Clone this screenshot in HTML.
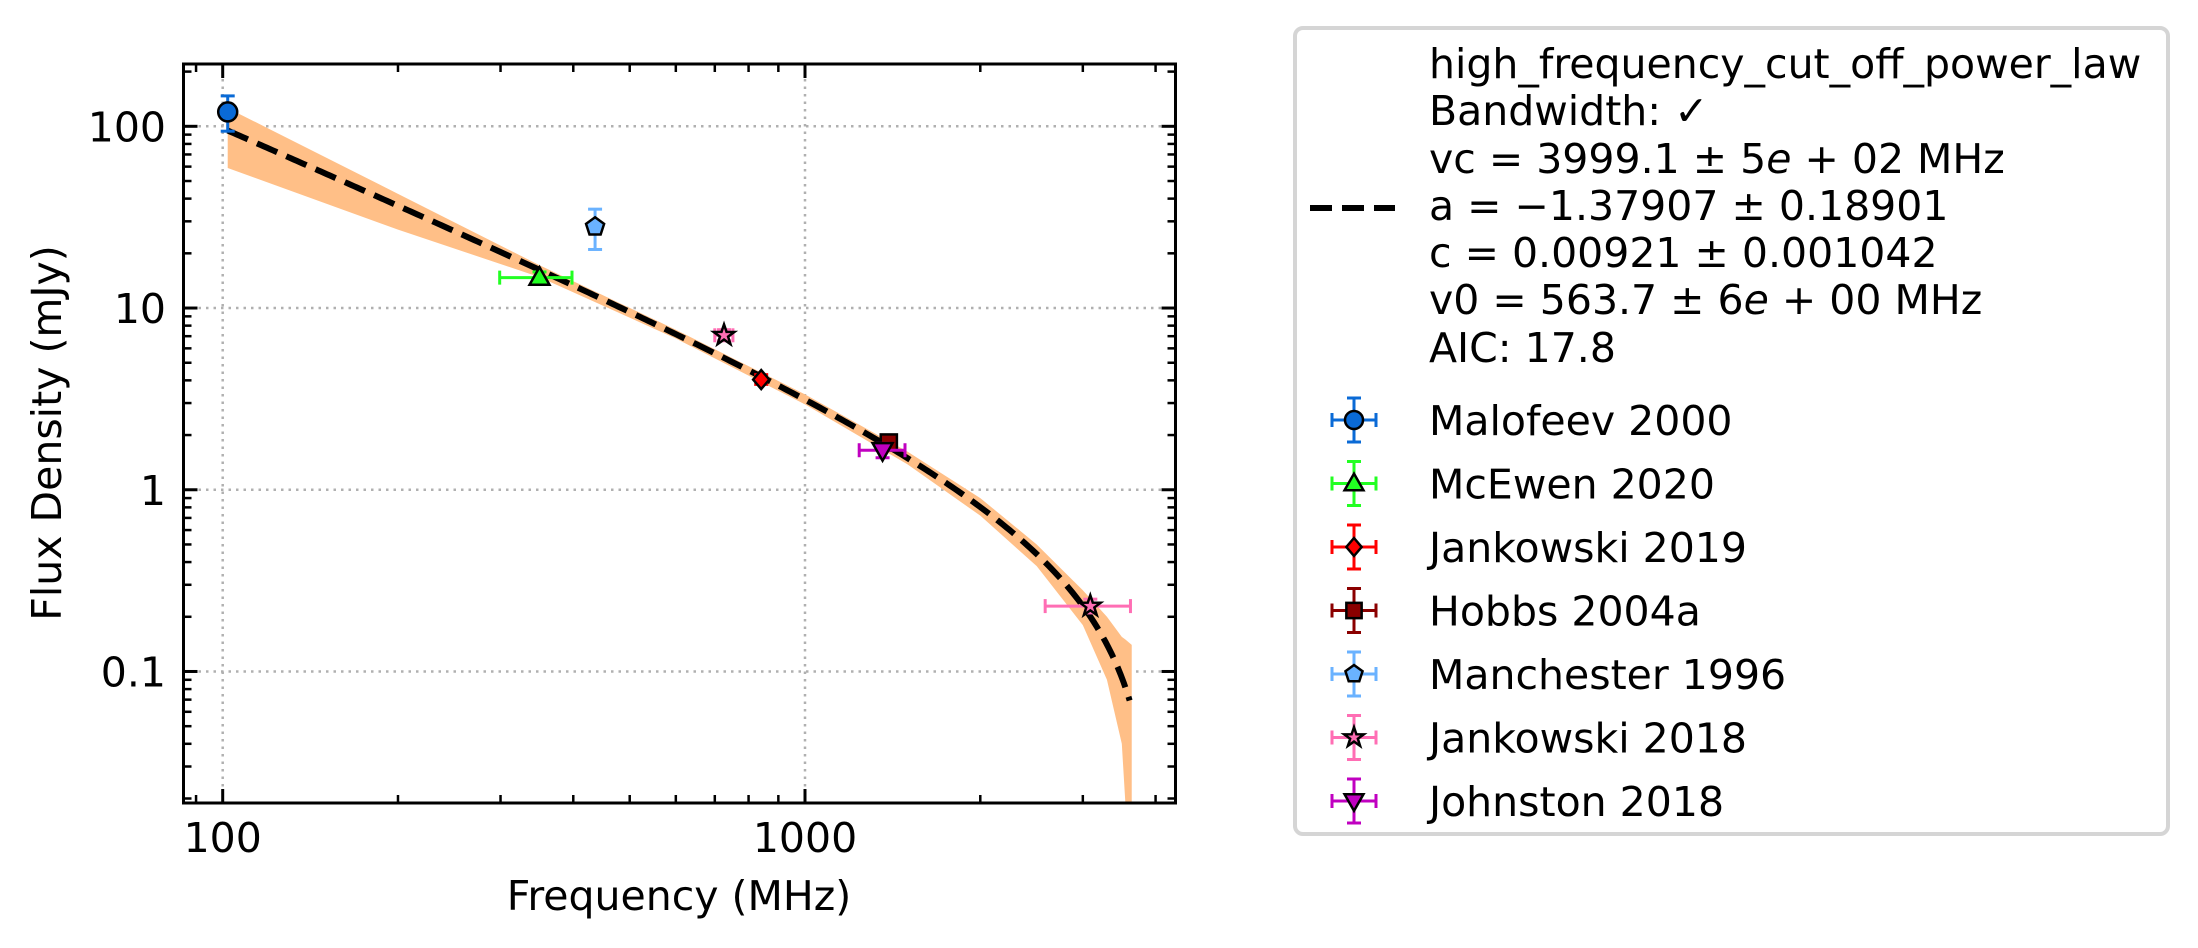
<!DOCTYPE html>
<html><head><meta charset="utf-8"><style>
html,body{margin:0;padding:0;background:#fff}
svg{display:block;font-family:"DejaVu Sans","Liberation Sans",sans-serif}
</style></head><body>
<svg id="chart" width="2198" height="948" viewBox="0 0 2198 948" xmlns="http://www.w3.org/2000/svg">
<g id="grid"></g>
<g id="band"></g>
<g id="fit"></g>
<g id="points"></g>
<g id="axes"></g>
<text x="679" y="910" font-size="41" text-anchor="middle">Frequency (MHz)</text>
<text x="0" y="0" font-size="41" text-anchor="middle" transform="translate(61,433) rotate(-90)">Flux Density (mJy)</text>
<g id="legend">
<rect x="1295" y="28" width="873" height="806" rx="8" fill="#fff" stroke="#d5d5d5" stroke-width="4"/>
<line x1="1310" y1="208" x2="1395" y2="208" stroke="#000" stroke-width="6" stroke-dasharray="22,10"/>
<g font-size="41">
<text x="1429" y="78">high_frequency_cut_off_power_law</text>
<text x="1429" y="125">Bandwidth: ✓</text>
<text x="1429" y="173">vc = 3999.1 ± 5<tspan font-style="italic">e</tspan> + 02 MHz</text>
<text x="1429" y="220">a = −1.37907 ± 0.18901</text>
<text x="1429" y="267">c = 0.00921 ± 0.001042</text>
<text x="1429" y="314">v0 = 563.7 ± 6<tspan font-style="italic">e</tspan> + 00 MHz</text>
<text x="1429" y="362">AIC: 17.8</text>
</g>
<g id="legend-entries"></g>
</g>
</svg>
<script>
// ---- data ----
const seriesNames = ["Malofeev 2000","McEwen 2020","Jankowski 2019","Hobbs 2004a","Manchester 1996","Jankowski 2018","Johnston 2018"];
const seriesColors = ["#0a6ad6","#22ff22","#ff0000","#8b0000","#6ab2ff","#ff6eb4","#c000c0"];
const seriesMarkers = ["circle","triangle","diamond","square","pentagon","star","tridown"];
// points: series index, freq, flux, freqLo, freqHi, fluxLo, fluxHi
const ptSeries = [0,1,4,5,2,3,6,5];
const ptFreq   = [102,350,436,726,841,1393,1359,3090];
const ptFlux   = [120,14.7,28,7.08,4.04,1.82,1.65,0.229];
const ptFreqLo = [101,299,434,700,835,1385,1239,2585];
const ptFreqHi = [103,398,438,752,847,1401,1485,3622];
const ptFluxLo = [94,13.6,21,6.6,3.8,1.7,1.5,0.21];
const ptFluxHi = [147,15.8,35,7.6,4.3,1.95,1.8,0.25];
const fitVc = 3999.1, fitA = -1.37907, fitC = 9.21, fitV0 = 563.7;
const fitStart = 102, fitEnd = 3610;
// uncertainty band
const bandFreq = [102,200,350,600,1000,1500,2000,2500,3000,3300,3500,3550,3640];
const bandHigh = [126,42.5,17.2,7.6,3.35,1.62,0.9,0.5,0.28,0.2,0.155,0.15,0.14];
const bandLow  = [59,27,14.8,6.8,2.95,1.38,0.72,0.38,0.18,0.09,0.04,0.0188,0.0188];
const xMajor = [100,1000];
const xMajorLabels = ["100","1000"];
const xMinor = [90,200,300,400,500,600,700,800,900,2000,3000,4000];
const yMajor = [0.1,1,10,100];
const yMajorLabels = ["0.1","1","10","100"];
const yMinor = [0.02,0.03,0.04,0.05,0.06,0.07,0.08,0.09,0.2,0.3,0.4,0.5,0.6,0.7,0.8,0.9,2,3,4,5,6,7,8,9,20,30,40,50,60,70,80,90,200];

// ---- geometry ----
const L=183.5,R=1175.5,T=64,B=803;
const xLogMin=2-(222.7-L)/582.3, xLogMax=2+(R-222.7)/582.3;
const yLogMax=2+(126.3-T)/181.7, yLogMin=-1-(B-671.5)/181.7;
const X=v=>L+(Math.log10(v)-xLogMin)/(xLogMax-xLogMin)*(R-L);
const Y=v=>B-(Math.log10(v)-yLogMin)/(yLogMax-yLogMin)*(B-T);
const NS="http://www.w3.org/2000/svg";
function mk(tag,attrs,parent){const e=document.createElementNS(NS,tag);for(const k in attrs)e.setAttribute(k,attrs[k]);parent.appendChild(e);return e;}
const grid=document.getElementById('grid'),axes=document.getElementById('axes');

xMajor.forEach(v=>{const g=mk('line',{x1:X(v),x2:X(v),y1:T,y2:B,stroke:'#b0b0b0','stroke-width':2.5,'stroke-dasharray':'2.5,5'},grid);

});
yMajor.forEach(v=>{const g=mk('line',{x1:L,x2:R,y1:Y(v),y2:Y(v),stroke:'#b0b0b0','stroke-width':2.5,'stroke-dasharray':'2.5,5'},grid);

});

// band
let d='';
bandFreq.forEach((f,i)=>{d+=(i?'L':'M')+X(f)+','+Y(bandHigh[i]);});
for(let i=bandFreq.length-1;i>=0;i--)d+='L'+X(bandFreq[i])+','+Y(bandLow[i]);
const bp=mk('path',{d:d+'Z',fill:'#ffbf87'},document.getElementById('band'));



// fit line
let fd='';
for(let i=0;i<=300;i++){const lf=Math.log10(fitStart)+(Math.log10(fitEnd)-Math.log10(fitStart))*i/300;const f=Math.pow(10,lf);
const s=fitC*Math.pow(f/fitV0,fitA)*(1-f/fitVc);fd+=(i?'L':'M')+X(f).toFixed(2)+','+Y(s).toFixed(2);}
const fl=mk('path',{d:fd,fill:'none',stroke:'#000','stroke-width':6,'stroke-dasharray':'22,10'},document.getElementById('fit'));



function marker(type,cx,cy,r,fill,parent){
 let e;
 if(type==='circle')e=mk('circle',{cx,cy,r},parent);
 else if(type==='square')e=mk('rect',{x:cx-r*0.85,y:cy-r*0.85,width:r*1.7,height:r*1.7},parent);
 else{let pts=[];
  if(type==='triangle')pts=[[0,-1.1],[1.05,0.75],[-1.05,0.75]];
  else if(type==='tridown')pts=[[0,1.1],[1.05,-0.75],[-1.05,-0.75]];
  else if(type==='diamond')pts=[[0,-1],[0.85,0],[0,1],[-0.85,0]];
  else if(type==='pentagon'){for(let k=0;k<5;k++){const a=-Math.PI/2+k*2*Math.PI/5;pts.push([Math.cos(a),Math.sin(a)]);}}
  else if(type==='star'){for(let k=0;k<10;k++){const a=-Math.PI/2+k*Math.PI/5;const rr=k%2?0.45:1.15;pts.push([rr*Math.cos(a),rr*Math.sin(a)]);}}
  e=mk('polygon',{points:pts.map(p=>(cx+p[0]*r)+','+(cy+p[1]*r)).join(' ')},parent);}
 e.setAttribute('fill',fill);e.setAttribute('stroke','#000');e.setAttribute('stroke-width',2.5);
 return e;
}
function errbar(x1,y1,x2,y2,col,horiz,parent){
 mk('line',{x1,y1,x2,y2,stroke:col,'stroke-width':3},parent);
 const c=7;
 if(horiz){mk('line',{x1:x1,x2:x1,y1:y1-c,y2:y1+c,stroke:col,'stroke-width':3},parent);mk('line',{x1:x2,x2:x2,y1:y2-c,y2:y2+c,stroke:col,'stroke-width':3},parent);}
 else{mk('line',{x1:x1-c,x2:x1+c,y1,y2:y1,stroke:col,'stroke-width':3},parent);mk('line',{x1:x2-c,x2:x2+c,y1:y2,y2,stroke:col,'stroke-width':3},parent);}
}
const pts=document.getElementById('points');
ptFreq.forEach((f,i)=>{
 const s=ptSeries[i],col=seriesColors[s];
 const g=mk('g',{},pts);
 
 
 const cx=X(f),cy=Y(ptFlux[i]);
 errbar(X(ptFreqLo[i]),cy,X(ptFreqHi[i]),cy,col,true,g);
 errbar(cx,Y(ptFluxLo[i]),cx,Y(ptFluxHi[i]),col,false,g);
 marker(seriesMarkers[s],cx,cy,9.5,col,g);
});

// axes frame and ticks
const fr=mk('rect',{x:L,y:T,width:R-L,height:B-T,fill:'none',stroke:'#000','stroke-width':3},axes);


function tick(x1,y1,x2,y2,w){mk('line',{x1,y1,x2,y2,stroke:'#000','stroke-width':w},axes);}
xMajor.forEach((v,i)=>{const x=X(v);tick(x,B,x,B-14,3);tick(x,T,x,T+14,3);
 const t=mk('text',{x:x,y:852,'font-size':41,'text-anchor':'middle'},axes);t.textContent=xMajorLabels[i];
 
 });
xMinor.forEach(v=>{const x=X(v);if(x<L||x>R)return;tick(x,B,x,B-8,2.5);tick(x,T,x,T+8,2.5);});
yMajor.forEach((v,i)=>{const y=Y(v);tick(L,y,L+14,y,3);tick(R,y,R-14,y,3);
 const t=mk('text',{x:166,y:y+15,'font-size':41,'text-anchor':'end'},axes);t.textContent=yMajorLabels[i];
 
 });
yMinor.forEach(v=>{const y=Y(v);if(y<T||y>B)return;tick(L,y,L+8,y,2.5);tick(R,y,R-8,y,2.5);});

// legend entries
const le=document.getElementById('legend-entries');
seriesNames.forEach((n,i)=>{
 const cy=420+63.5*i,cx=1354,col=seriesColors[i];
 const g=mk('g',{},le);
 
 
 errbar(cx-22,cy,cx+22,cy,col,true,g);
 errbar(cx,cy+22,cx,cy-22,col,false,g);
 marker(seriesMarkers[i],cx,cy,9,col,g);
 const t=mk('text',{x:1429,y:cy+15,'font-size':41},g);t.textContent=n;
});
</script>
</body></html>
